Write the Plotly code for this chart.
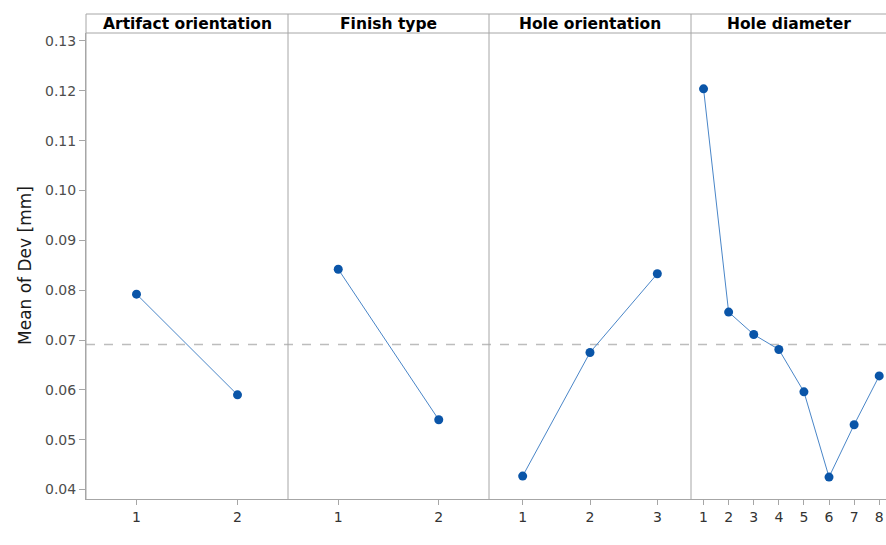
import plotly.graph_objects as go

# Main effects: mean of Dev [mm] for each factor level
factors = ["Artifact orientation", "Finish type", "Hole orientation", "Hole diameter"]
levels_artifact = [1, 2]
means_artifact = [0.0792, 0.0590]
levels_finish = [1, 2]
means_finish = [0.0842, 0.0540]
levels_hole_orient = [1, 2, 3]
means_hole_orient = [0.0427, 0.0675, 0.0833]
levels_hole_diam = [1, 2, 3, 4, 5, 6, 7, 8]
means_hole_diam = [0.1204, 0.0756, 0.0711, 0.0681, 0.0596, 0.0425, 0.0530, 0.0628]
grand_mean = 0.0691

y_ticks = [0.04, 0.05, 0.06, 0.07, 0.08, 0.09, 0.10, 0.11, 0.12, 0.13]
y_tick_text = ["0.04", "0.05", "0.06", "0.07", "0.08", "0.09", "0.10", "0.11", "0.12", "0.13"]

series = [
    (levels_artifact, means_artifact),
    (levels_finish, means_finish),
    (levels_hole_orient, means_hole_orient),
    (levels_hole_diam, means_hole_diam),
]

W, H = 886, 545
ML, MR, MT, MB = 86, 0, 33, 46
plot_w = W - ML - MR
plot_h = H - MT - MB
header_h = 19

# panel boundaries in pixels (relative to plot area)
edges_px = [0, 202, 403, 605, 800]
domains = [[edges_px[i] / plot_w, edges_px[i + 1] / plot_w] for i in range(4)]
x_ranges = [[0.5, 2.5], [0.5, 2.5], [0.5, 3.5], [0.5, 8.27]]

axis_grey = "#a6a6a6"
line_col = "#4a86c8"
mark_col = "#0a55a8"
font_main = "DejaVu Sans, Verdana, sans-serif"

fig = go.Figure()
for i, (lv, mv) in enumerate(series):
    xa = "x" if i == 0 else f"x{i + 1}"
    fig.add_trace(go.Scatter(
        x=lv, y=mv, xaxis=xa, yaxis="y",
        mode="lines+markers",
        line=dict(color=line_col, width=1),
        marker=dict(color=mark_col, size=9),
        showlegend=False, hoverinfo="x+y",
    ))

layout = dict(
    width=W, height=H,
    margin=dict(l=ML, r=MR, t=MT, b=MB, pad=0),
    paper_bgcolor="white", plot_bgcolor="white",
    font=dict(family=font_main, size=14, color="#4d4d4d"),
    yaxis=dict(
        range=[0.0381, 0.1316], tickvals=y_ticks, ticktext=y_tick_text,
        ticks="outside", ticklen=6, tickcolor=axis_grey, tickwidth=1,
        showline=True, linecolor=axis_grey, linewidth=1,
        showgrid=False, zeroline=False, anchor="x",
        tickfont=dict(family=font_main, size=14, color="#4d4d4d"),
    ),
)
for i in range(4):
    key = "xaxis" if i == 0 else f"xaxis{i + 1}"
    lv = series[i][0]
    layout[key] = dict(
        domain=domains[i], range=x_ranges[i], anchor="y",
        tickvals=lv, ticktext=[str(v) for v in lv],
        ticks="outside", ticklen=5, tickcolor=axis_grey, tickwidth=1,
        showline=True, linecolor=axis_grey, linewidth=1,
        showgrid=False, zeroline=False,
        tickfont=dict(family=font_main, size=14, color="#333333"),
    )
fig.update_layout(**layout)

top = 1 + header_h / plot_h
shapes = []
# grand mean reference line
shapes.append(dict(type="line", xref="paper", yref="y", x0=0, x1=1,
                   y0=grand_mean, y1=grand_mean,
                   line=dict(color="#bdbdbd", width=1.3, dash="dash"), layer="below"))
# header strip borders
shapes.append(dict(type="line", xref="paper", yref="paper", x0=0, x1=1, y0=top, y1=top,
                   line=dict(color=axis_grey, width=1)))
shapes.append(dict(type="line", xref="paper", yref="paper", x0=0, x1=1, y0=1, y1=1,
                   line=dict(color=axis_grey, width=1)))
# left border and panel dividers
for e in edges_px[:-1]:
    xp = e / plot_w
    shapes.append(dict(type="line", xref="paper", yref="paper", x0=xp, x1=xp, y0=0, y1=top,
                       line=dict(color=axis_grey, width=1)))

annotations = []
for i, name in enumerate(factors):
    cx = (domains[i][0] + domains[i][1]) / 2
    annotations.append(dict(
        text=f"<b>{name}</b>", xref="paper", yref="paper",
        x=cx, y=(1 + top) / 2, xanchor="center", yanchor="middle",
        showarrow=False, font=dict(family=font_main, size=15.5, color="#000000"),
    ))
annotations.append(dict(
    text="Mean of Dev [mm]", xref="paper", yref="paper",
    x=(25 - ML) / plot_w, y=0.5, xanchor="center", yanchor="middle",
    textangle=-90, showarrow=False,
    font=dict(family=font_main, size=17, color="#1a1a1a"),
))
fig.update_layout(shapes=shapes, annotations=annotations)

fig.write_html("out.html")
